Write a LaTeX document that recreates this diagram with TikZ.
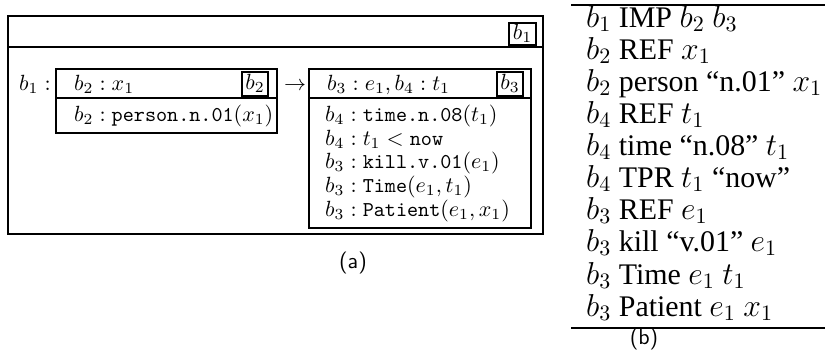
\documentclass[tikz,border=0pt]{standalone}
\usepackage{fontspec}
\newfontfamily\tabfont{Liberation Serif}
\begin{document}
\begin{tikzpicture}[x=0.4545pt,y=-0.4545pt,line width=1pt,
  lbl/.style={inner sep=0pt,anchor=west,text height=7pt,text depth=2pt,font=\fontsize{9.6}{11}\selectfont},
  tagtxt/.style={inner sep=0pt,text height=7pt,text depth=2pt,font=\fontsize{9.6}{11}\selectfont},
  row/.style={inner sep=0pt,anchor=west,text height=9pt,text depth=2.6pt,font=\tabfont\fontsize{13.6}{16}\selectfont},
  captxt/.style={inner sep=0pt,font=\sffamily\fontsize{10}{12}\selectfont}]
\useasboundingbox (0,0) rectangle (826,350);
% ---------- (a) ----------
\draw (8,16) rectangle (543,234);
\draw (8,47) -- (543,47);
\draw (509,23) rectangle (536,45);
\node[tagtxt] (tagA) at (522.5,34) {$b_1$};
\node[lbl] (b1lab) at (18,85) {$b_1:$};
% b2 box
\draw (56,69) rectangle (277,133);
\draw (56,98) -- (277,98);
\draw (242,72) rectangle (268,96);
\node[tagtxt] (tagB) at (255,84) {$b_2$};
\node[lbl] (b2h) at (73,85) {$b_2 : x_1$};
\node[lbl] (b2a) at (73,116) {$b_2 : \texttt{person.n.01}(x_1)$};
% arrow
\node[tagtxt] (arr) at (295,85) {$\rightarrow$};
% b3 box
\draw (309,69) rectangle (531,228);
\draw (309,98) -- (531,98);
\draw (497,72) rectangle (523,96);
\node[tagtxt] (tagC) at (510,84) {$b_3$};
\node[lbl] (b3h) at (326,85) {$b_3 : e_1, b_4 : t_1$};
\node[lbl] (c1) at (324,116) {$b_4 : \texttt{time.n.08}(t_1)$};
\node[lbl] (c2) at (324,140) {$b_4 : t_1 < \texttt{now}$};
\node[lbl] (c3) at (324,163) {$b_3 : \texttt{kill.v.01}(e_1)$};
\node[lbl] (c4) at (324,187) {$b_3 : \texttt{Time}(e_1, t_1)$};
\node[lbl] (c5) at (324,211) {$b_3 : \texttt{Patient}(e_1, x_1)$};
\node[captxt] (capa) at (353,263) {(a)};
% ---------- (b) ----------
\draw (571,5) -- (825,5);
\draw (571,328) -- (825,328);
\node[row] (r1) at (585,20) {$b_1$ IMP $b_2$ $b_3$};
\node[row] (r2) at (585,52) {$b_2$ REF $x_1$};
\node[row] (r3) at (585,84) {$b_2$ person “n.01” $x_1$};
\node[row] (r4) at (585,116) {$b_4$ REF $t_1$};
\node[row] (r5) at (585,148) {$b_4$ time “n.08” $t_1$};
\node[row] (r6) at (585,180) {$b_4$ TPR $t_1$ “now”};
\node[row] (r7) at (585,212) {$b_3$ REF $e_1$};
\node[row] (r8) at (585,244) {$b_3$ kill “v.01” $e_1$};
\node[row] (r9) at (585,277) {$b_3$ Time $e_1$ $t_1$};
\node[row] (r10) at (585,309) {$b_3$ Patient $e_1$ $x_1$};
\node[captxt] (capb) at (644,339) {(b)};
\end{tikzpicture}
\end{document}
